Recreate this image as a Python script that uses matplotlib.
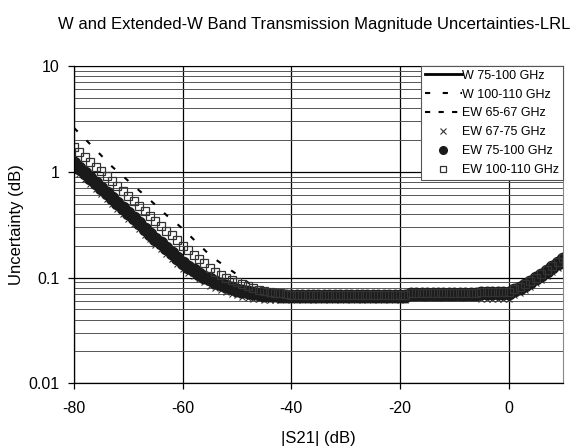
import numpy as np
import matplotlib
matplotlib.use("Agg")
from matplotlib import pyplot as plt
from matplotlib.ticker import LogLocator, NullFormatter, FixedLocator

plt.rcParams['font.family'] = ['Liberation Sans', 'DejaVu Sans']
plt.rcParams['axes.unicode_minus'] = False

# |S21| in dB, one reading per dB
s21 = np.arange(-80, 11)

# W 75-100 GHz (solid) and EW 75-100 GHz (filled circles) share the black band
w_75_100 = [
    1.20, 1.08, 0.965, 0.865, 0.775, 0.70, 0.63, 0.565, 0.505, 0.455,
    0.405, 0.365, 0.325, 0.29, 0.26, 0.233, 0.21, 0.19, 0.172, 0.153,
    0.137, 0.126, 0.117, 0.109, 0.102, 0.096, 0.091, 0.087, 0.083, 0.080,
    0.077, 0.075, 0.073, 0.071, 0.070, 0.069, 0.068, 0.068, 0.067, 0.067,
    0.067, 0.067, 0.067, 0.067, 0.067, 0.067, 0.067, 0.067, 0.067, 0.067,
    0.067, 0.067, 0.067, 0.067, 0.067, 0.067, 0.067, 0.067, 0.067, 0.067,
    0.067, 0.067, 0.070, 0.070, 0.070, 0.070, 0.070, 0.070, 0.070, 0.070,
    0.070, 0.070, 0.070, 0.070, 0.070, 0.071, 0.071, 0.071, 0.071, 0.071,
    0.071, 0.076, 0.080, 0.085, 0.091, 0.098, 0.106, 0.115, 0.125, 0.137,
    0.150,
]
ew_75_100 = w_75_100

# W 100-110 GHz (dashed)
w_100_110 = [
    2.6, 2.31, 2.05, 1.82, 1.61, 1.43, 1.265, 1.12, 1.01, 0.91,
    0.82, 0.74, 0.665, 0.60, 0.54, 0.485, 0.435, 0.39, 0.35, 0.32,
    0.29, 0.258, 0.23, 0.205, 0.183, 0.163, 0.149, 0.137, 0.126, 0.116,
    0.107, 0.098, 0.090, 0.083, 0.078, 0.074, 0.071, 0.069, 0.068, 0.068,
    0.067, 0.067, 0.067, 0.067, 0.067, 0.067, 0.067, 0.067, 0.067, 0.067,
    0.067, 0.067, 0.067, 0.067, 0.067, 0.067, 0.067, 0.067, 0.067, 0.067,
    0.067, 0.067, 0.070, 0.070, 0.070, 0.070, 0.070, 0.070, 0.070, 0.070,
    0.070, 0.070, 0.070, 0.070, 0.070, 0.071, 0.071, 0.071, 0.071, 0.071,
    0.071, 0.076, 0.080, 0.085, 0.091, 0.098, 0.106, 0.115, 0.125, 0.137,
    0.150,
]

# EW 65-67 GHz (dashed, lies under the black band)
ew_65_67 = w_75_100

# EW 67-75 GHz (x markers, along the lower edge of the band)
ew_67_75 = [
    1.055, 0.95, 0.85, 0.76, 0.68, 0.615, 0.555, 0.497, 0.445, 0.40,
    0.356, 0.321, 0.286, 0.255, 0.229, 0.205, 0.185, 0.167, 0.151, 0.135,
    0.121, 0.111, 0.103, 0.096, 0.090, 0.084, 0.080, 0.076, 0.073, 0.070,
    0.068, 0.066, 0.064, 0.063, 0.062, 0.061, 0.061, 0.061, 0.061, 0.061,
    0.061, 0.061, 0.061, 0.061, 0.061, 0.061, 0.061, 0.061, 0.061, 0.061,
    0.061, 0.061, 0.061, 0.061, 0.061, 0.061, 0.061, 0.061, 0.061, 0.061,
    0.061, 0.061, 0.064, 0.064, 0.064, 0.064, 0.064, 0.064, 0.064, 0.064,
    0.064, 0.064, 0.064, 0.064, 0.064, 0.062, 0.062, 0.062, 0.062, 0.062,
    0.062, 0.068, 0.072, 0.077, 0.082, 0.088, 0.095, 0.103, 0.112, 0.122,
    0.133,
]

# EW 100-110 GHz (open squares)
ew_100_110 = [
    1.72, 1.55, 1.38, 1.24, 1.12, 1.01, 0.91, 0.82, 0.735, 0.655,
    0.59, 0.53, 0.475, 0.425, 0.38, 0.34, 0.305, 0.275, 0.25, 0.225,
    0.20, 0.182, 0.165, 0.15, 0.137, 0.124, 0.113, 0.105, 0.098, 0.094,
    0.090, 0.086, 0.083, 0.080, 0.077, 0.075, 0.073, 0.072, 0.071, 0.070,
    0.069, 0.069, 0.069, 0.069, 0.069, 0.069, 0.069, 0.069, 0.069, 0.069,
    0.069, 0.069, 0.069, 0.069, 0.069, 0.069, 0.069, 0.069, 0.069, 0.069,
    0.069, 0.069, 0.072, 0.072, 0.072, 0.072, 0.072, 0.072, 0.072, 0.072,
    0.072, 0.072, 0.072, 0.072, 0.072, 0.073, 0.073, 0.073, 0.073, 0.073,
    0.073, 0.078, 0.082, 0.087, 0.093, 0.100, 0.108, 0.117, 0.128, 0.140,
    0.153,
]

fig = plt.figure(figsize=(5.77, 4.48), dpi=100)
ax = fig.add_axes([0.1282, 0.1444, 0.8475, 0.7083])

ax.plot(s21, w_75_100, color='black', lw=2, label='W 75-100 GHz')
ax.plot(s21, w_100_110, color='black', lw=1.5, ls=(0, (2.5, 6)),
        label='W 100-110 GHz')
ax.plot(s21, ew_65_67, color='black', lw=1.5, ls=(0, (2.5, 4)),
        label='EW 65-67 GHz')
ax.plot(s21, ew_67_75, ls='none', marker='x', ms=4.5, mew=0.8,
        color='#333333', label='EW 67-75 GHz')
ax.plot(s21, ew_75_100, ls='none', marker='o', ms=9,
        color='#1a1a1a', label='EW 75-100 GHz')
ax.plot(s21, ew_100_110, ls='none', marker='s', ms=5.5, mew=0.9,
        mfc='none', mec='#333333', label='EW 100-110 GHz')

ax.set_yscale('log')
ax.set_xlim(-80, 10)
ax.set_ylim(0.01, 10)
ax.xaxis.set_major_locator(FixedLocator([-80, -60, -40, -20, 0]))
ax.set_yticks([0.01, 0.1, 1, 10])
ax.set_yticklabels(['0.01', '0.1', '1', '10'])
ax.yaxis.set_minor_locator(LogLocator(base=10, subs=np.arange(2, 10)))
ax.yaxis.set_minor_formatter(NullFormatter())

ax.grid(True, which='major', axis='both', color='black', lw=0.9)
ax.grid(True, which='minor', axis='y', color='#555555', lw=0.7)
ax.tick_params(axis='both', which='major', direction='out', length=4.5,
               width=0.9, labelsize=11.5, colors='black')
ax.tick_params(axis='y', which='minor', length=0)
ax.tick_params(axis='x', pad=8)
ax.tick_params(axis='y', pad=6)
for side in ['left', 'bottom']:
    ax.spines[side].set_color('black')
    ax.spines[side].set_linewidth(0.9)
ax.spines['right'].set_color('#888888')
ax.spines['top'].set_color('black')
ax.set_axisbelow(True)

ax.set_xlabel('|S21| (dB)', fontsize=12, labelpad=11)
ax.set_ylabel('Uncertainty (dB)', fontsize=12, labelpad=3)
fig.text(0.544, 0.946, 'W and Extended-W Band Transmission Magnitude Uncertainties-LRL',
         ha='center', va='center', fontsize=12)

leg = ax.legend(loc='upper right', bbox_to_anchor=(1.0, 1.0), fontsize=9,
                frameon=True, fancybox=False, edgecolor='#555555',
                framealpha=1, handlelength=2.95, handletextpad=0.05,
                labelspacing=0.55, borderpad=0.3, borderaxespad=0)
leg.get_frame().set_linewidth(0.8)
leg.legend_handles[4].set_markersize(5.5)
leg.legend_handles[5].set_markersize(4.5)

fig.savefig('out.png', dpi=100)
